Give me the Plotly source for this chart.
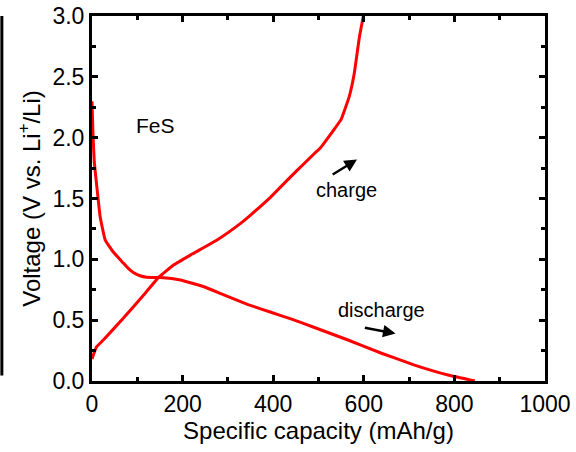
import plotly.graph_objects as go

discharge_cap = [0, 2, 5, 10, 18, 29, 47, 69, 80, 92, 106, 121, 151, 195, 247, 291, 343, 395, 439, 491, 565, 639, 712, 786, 845]
discharge_v = [2.30, 2.05, 1.80, 1.62, 1.35, 1.16, 1.06, 0.97, 0.925, 0.89, 0.865, 0.853, 0.85, 0.83, 0.775, 0.707, 0.63, 0.565, 0.51, 0.44, 0.337, 0.228, 0.131, 0.049, 0.0]

charge_cap = [0, 3, 10, 25, 69, 114, 147, 180, 217, 276, 328, 350, 395, 439, 469, 491, 505, 531, 550, 568, 579, 590, 599]
charge_v = [0.18, 0.214, 0.28, 0.337, 0.515, 0.707, 0.852, 0.953, 1.035, 1.159, 1.296, 1.364, 1.514, 1.68, 1.79, 1.87, 1.92, 2.05, 2.15, 2.34, 2.53, 2.82, 3.0]

FONT = "Liberation Sans, Arial, sans-serif"
RED = "#ff0000"

fig = go.Figure()
fig.add_trace(go.Scatter(x=discharge_cap, y=discharge_v, mode="lines",
                         line=dict(color=RED, width=3, shape="spline", smoothing=0.3),
                         showlegend=False))
fig.add_trace(go.Scatter(x=charge_cap, y=charge_v, mode="lines",
                         line=dict(color=RED, width=3, shape="spline", smoothing=0.3),
                         showlegend=False))

axis_common = dict(showline=True, linecolor="black", linewidth=3, mirror="ticks",
                   ticks="inside", ticklen=6, tickwidth=2.5, tickcolor="black",
                   showgrid=False, zeroline=False, automargin=False,
                   tickfont=dict(family=FONT, size=23, color="black"),
                   title_font=dict(family=FONT, size=24, color="black"))

fig.update_xaxes(range=[0, 1000], dtick=200, tick0=0,
                 minor=dict(dtick=100, ticks="inside", ticklen=4, tickwidth=2.5, tickcolor="black"),
                 title_text="Specific capacity (mAh/g)", title_standoff=4, **axis_common)
fig.update_yaxes(range=[0, 3.0], dtick=0.5, tick0=0, tickformat=".1f",
                 minor=dict(dtick=0.25, ticks="inside", ticklen=4, tickwidth=2.5, tickcolor="black"),
                 title_text="Voltage (V vs. Li<sup>+</sup>/Li)", title_standoff=6, **axis_common)

fig.add_annotation(x=140, y=2.1, text="FeS", showarrow=False,
                   font=dict(family=FONT, size=21, color="black"))
fig.add_annotation(x=561, y=1.57, text="charge", showarrow=False,
                   font=dict(family=FONT, size=20, color="black"))
fig.add_annotation(x=638, y=0.58, text="discharge", showarrow=False,
                   font=dict(family=FONT, size=20, color="black"))
fig.add_annotation(x=585, y=1.82, ax=528, ay=1.69, axref="x", ayref="y",
                   xref="x", yref="y", text="", showarrow=True,
                   arrowhead=2, arrowsize=1, arrowwidth=2.5, arrowcolor="black")
fig.add_annotation(x=670, y=0.39, ax=599, ay=0.44, axref="x", ayref="y",
                   xref="x", yref="y", text="", showarrow=True,
                   arrowhead=2, arrowsize=1, arrowwidth=2.5, arrowcolor="black")

# cropped edge of neighbouring panel at the left border
fig.add_shape(type="line", xref="paper", yref="paper", x0=-0.199, x1=-0.199,
              y0=0.015, y1=1.0, line=dict(color="black", width=3))

fig.update_layout(width=576, height=452,
                  margin=dict(l=92, r=31, t=16, b=71),
                  paper_bgcolor="white", plot_bgcolor="white")

fig.write_html("out.html")
